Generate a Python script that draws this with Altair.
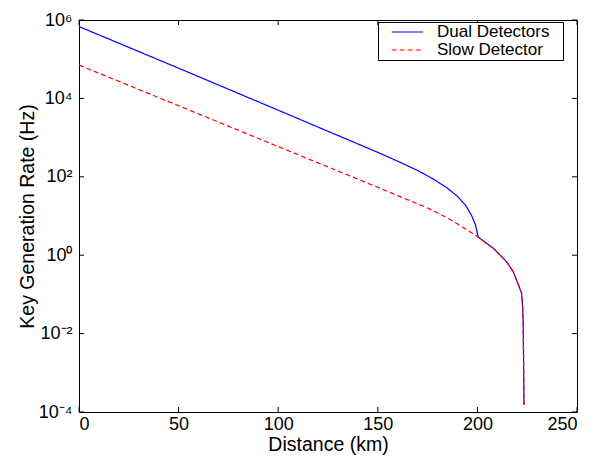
import altair as alt
import pandas as pd

# ---- data ----
x_dual = [0, 50, 100, 150, 160, 170, 178, 185, 190, 194, 197, 199, 200.4, 208, 214.7, 218, 219.7, 222.2, 222.7, 223.0, 223.4]
r_dual = [6.8e5, 5.9e4, 5.0e3, 4.2e2, 2.5e2, 1.45e2, 87, 51, 31.6, 19, 10.5, 6.0, 2.9, 1.5, 0.68, 0.38, 0.23, 0.107, 0.05, 0.018, 1.5e-4]
x_slow = [0, 50, 100, 150, 175, 185, 190, 200.4, 208, 214.7, 218, 219.7, 222.2, 222.7, 223.0, 223.4]
r_slow = [7.1e4, 6.5e3, 5.9e2, 54, 16, 8.9, 6.3, 2.9, 1.5, 0.68, 0.38, 0.23, 0.107, 0.05, 0.018, 1.5e-4]
series = ["Dual Detectors", "Slow Detector"]
x_ticks = [0, 50, 100, 150, 200, 250]
y_ticks = [1e-4, 1e-2, 1, 1e2, 1e4, 1e6]
y_tick_labels = ["10⁻⁴", "10⁻²", "10⁰", "10²", "10⁴", "10⁶"]

W, H = 498, 392
FONT = "Liberation Sans"

df = pd.concat([
    pd.DataFrame({"d": x_dual, "r": r_dual, "s": series[0], "o": range(len(x_dual))}),
    pd.DataFrame({"d": x_slow, "r": r_slow, "s": series[1], "o": range(len(x_slow))}),
])

xs = alt.Scale(domain=[0, 250], nice=False, zero=False)
ys = alt.Scale(type="log", domain=[1e-4, 1e6], nice=False)

label_expr = "[" + ",".join(f"'{l}'" for l in y_tick_labels) + "][round(log(datum.value)/LN10/2)+2]"

x_axis = alt.Axis(values=x_ticks, ticks=False, domain=False, grid=False,
                  labelPadding=3, titlePadding=2, title="Distance (km)")
y_axis = alt.Axis(values=y_ticks, ticks=False, domain=False, grid=False,
                  labelExpr=label_expr, labelPadding=7, titlePadding=1,
                  title="Key Generation Rate (Hz)")

leg = dict(title=None, orient="none", legendX=299, legendY=2,
           symbolType="M-0.49,0H0.88", symbolSize=2116, clipHeight=18,
           symbolStrokeWidth=1.2, labelOffset=10, padding=1,
           strokeColor="black", fillColor="white",
           labelFont=FONT, labelFontSize=17, labelColor="black",
           labelExpr="datum.label + '\u2800'",
           rowPadding=0, cornerRadius=0)

lines = alt.Chart(df).mark_line(strokeWidth=1.2, clip=True).encode(
    x=alt.X("d:Q", scale=xs, axis=x_axis),
    y=alt.Y("r:Q", scale=ys, axis=y_axis),
    color=alt.Color("s:N", scale=alt.Scale(domain=series, range=["#0000ff", "#ff0000"]),
                    legend=alt.Legend(**leg)),
    strokeDash=alt.StrokeDash("s:N", scale=alt.Scale(domain=series, range=[[1, 0], [5, 3]]),
                              legend=alt.Legend(**leg)),
    order="o:Q",
)

xt = pd.DataFrame({"x": x_ticks})
yt = pd.DataFrame({"y": y_ticks})
tick_bottom = alt.Chart(xt).mark_rule(color="black", strokeWidth=1).encode(
    x=alt.X("x:Q", scale=xs, axis=x_axis), y=alt.value(H), y2=alt.value(H - 5))
tick_top = alt.Chart(xt).mark_rule(color="black", strokeWidth=1).encode(
    x=alt.X("x:Q", scale=xs, axis=x_axis), y=alt.value(0), y2=alt.value(5))
tick_left = alt.Chart(yt).mark_rule(color="black", strokeWidth=1).encode(
    y=alt.Y("y:Q", scale=ys, axis=y_axis), x=alt.value(0), x2=alt.value(5))
tick_right = alt.Chart(yt).mark_rule(color="black", strokeWidth=1).encode(
    y=alt.Y("y:Q", scale=ys, axis=y_axis), x=alt.value(W), x2=alt.value(W - 5))

chart = alt.layer(lines, tick_bottom, tick_top, tick_left, tick_right).properties(
    width=W, height=H,
    autosize=alt.AutoSizeParams(type="none"),
    padding={"left": 71, "top": 12, "right": 26, "bottom": 44},
    background="white",
).configure_view(stroke="black", strokeWidth=1).configure_axis(
    labelFont=FONT, labelFontSize=18, labelColor="black",
    titleFont=FONT, titleFontSize=19.5, titleFontWeight="normal", titleColor="black",
)

chart.save("out.html", embed_options={"renderer": "svg", "actions": False})
